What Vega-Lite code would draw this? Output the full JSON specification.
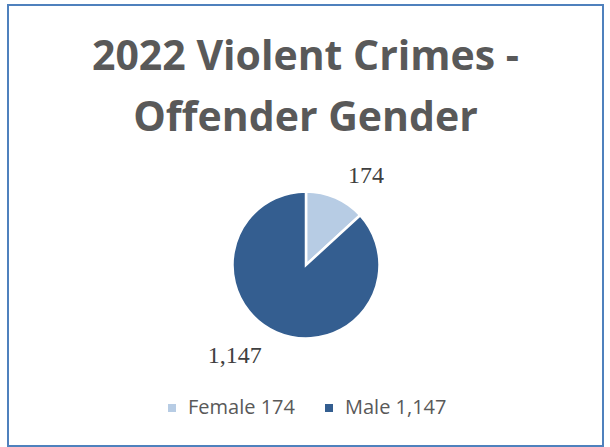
{
  "$schema": "https://vega.github.io/schema/vega-lite/v6.json",
  "width": 595,
  "height": 441,
  "autosize": {"type": "none"},
  "padding": {"left": 8, "top": 5, "right": 7, "bottom": 1},
  "background": "white",
  "view": {"stroke": "#4F81BD", "strokeWidth": 2, "fill": "white"},
  "config": {"view": {"stroke": "#4F81BD", "strokeWidth": 2}},
  "title": {
    "text": ["2022 Violent Crimes -", "Offender Gender"],
    "font": "Open Sans",
    "fontSize": 41,
    "fontWeight": "bold",
    "color": "#595959",
    "anchor": "middle",
    "frame": "group",
    "offset": -135,
    "lineHeight": 61
  },
  "data": {
    "values": [
      {"gender": "Female", "count": 174, "label": "174", "legend": "Female 174"},
      {"gender": "Male", "count": 1147, "label": "1,147", "legend": "Male 1,147"}
    ]
  },
  "layer": [
    {
      "mark": {"type": "arc", "outerRadius": 73.5, "stroke": "white", "strokeWidth": 2.5, "yOffset": 39.5, "xOffset": 0.5},
      "encoding": {
        "theta": {"field": "count", "type": "quantitative", "stack": true},
        "color": {
          "field": "legend",
          "type": "nominal",
          "scale": {"range": ["#B7CCE4", "#345E90"]},
          "legend": {
            "orient": "none",
            "legendX": 154,
            "legendY": 393,
            "direction": "horizontal",
            "title": null,
            "symbolType": "square",
            "symbolSize": 64,
            "symbolStrokeWidth": 0,
            "labelFont": "Open Sans",
            "labelFontSize": 20,
            "labelColor": "#595959",
            "labelOffset": 6,
            "columnPadding": 24,
            "padding": 0
          }
        },
        "order": {"field": "legend", "sort": "ascending"}
      }
    },
    {
      "mark": {"type": "text", "radius": 97, "font": "Liberation Serif", "fontSize": 24, "color": "#404040", "dx": 21.5, "yOffset": 39.5, "align": "center", "baseline": "middle"},
      "encoding": {
        "theta": {"field": "count", "type": "quantitative", "stack": true},
        "detail": {"field": "legend", "type": "nominal"},
        "order": {"field": "legend", "sort": "ascending"},
        "text": {"condition": {"test": "datum.gender === 'Female'", "field": "label"}, "value": ""}
      }
    },
    {
      "mark": {"type": "text", "radius": 99, "font": "Liberation Serif", "fontSize": 24, "color": "#404040", "dx": -31, "yOffset": 39.5, "align": "center", "baseline": "middle"},
      "encoding": {
        "theta": {"field": "count", "type": "quantitative", "stack": true},
        "detail": {"field": "legend", "type": "nominal"},
        "order": {"field": "legend", "sort": "ascending"},
        "text": {"condition": {"test": "datum.gender === 'Male'", "field": "label"}, "value": ""}
      }
    }
  ]
}
